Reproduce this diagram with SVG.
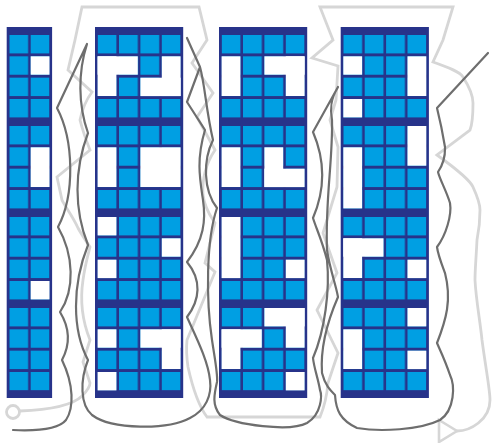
<svg xmlns="http://www.w3.org/2000/svg" width="493" height="443" viewBox="0 0 493 443">
<defs>
<pattern id="cells" patternUnits="userSpaceOnUse" x="2.6" y="35" width="21.4" height="91">
<rect x="0" y="0" width="18.8" height="18.4" fill="#009fe3"/>
<rect x="0" y="21.33" width="18.8" height="18.4" fill="#009fe3"/>
<rect x="0" y="42.67" width="18.8" height="18.4" fill="#009fe3"/>
<rect x="0" y="64" width="18.8" height="18.4" fill="#009fe3"/>
</pattern>
<marker id="arrow" markerUnits="userSpaceOnUse" markerWidth="24" markerHeight="26" refX="2" refY="12" orient="auto" viewBox="0 0 24 26">
<polygon points="20,1 20,23 2,12" fill="#fff" stroke="#d6d6d6" stroke-width="2.6" stroke-linejoin="miter"/>
</marker>
<style>
.frame{fill:#27338a}
.cells{fill:url(#cells)}
.hole{fill:#fff}
.dark{fill:none;stroke:#6e6e6e;stroke-width:2.2;stroke-linejoin:round;stroke-linecap:round}
.light{fill:none;stroke:#d6d6d6;stroke-width:2.8;stroke-linejoin:miter;stroke-linecap:round}
</style>
</defs>
<rect width="493" height="443" fill="#fff"/>

<g id="connectors">
<path class="light" marker-end="url(#arrow)" d="M19.5,411 C45,410 72,406 82,396 C88,390 90,386 90,383 L83,362 L90,340 C82,320 80,300 83,280 C85,265 88,255 90,247 C84,238 80,232 78,228 C72,215 64,205 62,200 L57,177 L90,150 C86,140 82,128 80,120 C82,110 86,100 92,92 L68,70 L75,40 L82,7 L199,7 L207,40 L192,63 L213,93 L197,117 L215,150 C205,165 202,180 203,195 C205,210 212,218 215,223 L205,263 L215,272 L187,340 C186,350 187,360 188,367 C192,385 198,405 207,417 L320,417 C325,405 327,395 328,383 L338,353 L317,310 L337,273 L323,233 L337,187 L338,147 L330,120 L336,100 L338,66 L312,58 L333,40 L320,7 L453,7 L443,40 L433,62 C450,68 460,72 463,77 C470,88 473,95 473,103 C473,115 472,125 470,130 L437,155 C455,168 470,180 473,187 C478,198 480,205 480,210 C480,225 478,235 477,240 C476,260 475,270 475,280 C476,300 480,320 482,340 C486,370 490,390 490,400 C490,420 470,431 457,431"/>
<circle class="light" cx="13" cy="412" r="6.5"/>
<path class="dark" d="M13,430 C35,431 58,430 66,420 C74,408 74,385 62,360 C70,345 71,330 60,312 C75,290 74,255 58,227 C75,195 74,140 57,108 L87,44 C78,72 78,105 88,133 C74,170 74,210 88,245 C72,285 72,330 88,360 C80,380 80,405 92,415 C112,430 168,430 190,418 C206,410 212,395 210,380 C208,360 195,335 187,317 C200,300 202,280 187,262 C204,240 206,220 203,200 C200,180 196,160 205,130 L187,102 L200,67 L187,38 L200,67 C205,85 206,110 213,140 C203,160 203,190 217,208 C206,240 206,300 212,340 C215,360 218,375 217,382 C214,395 212,405 220,415 C235,425 290,432 307,423 C322,414 322,395 320,390 C318,378 314,368 313,358 C325,330 330,290 327,260 C322,240 316,228 313,218 C325,190 325,160 313,132 L338,87 C330,100 330,110 332,120 C333,160 325,200 327,250 C330,270 336,285 338,297 C328,320 320,345 322,373 C325,385 330,390 335,395 C336,410 340,420 357,428 C380,432 420,430 440,420 C455,410 455,385 450,375 C445,360 440,350 437,343 C446,320 452,300 445,273 C442,265 438,255 437,247 C446,235 452,215 450,203 C446,190 440,180 438,172 C446,160 445,150 445,147 C443,135 440,120 437,108 L488,53"/>
</g>

<g id="column-1" transform="translate(6.7,0)">
<rect class="frame" x="0" y="27" width="45.4" height="371"/>
<rect class="cells" x="2.6" y="35" width="40.2" height="355.4"/>
<rect class="hole" x="24" y="56.3" width="18.8" height="18.4"/>
<rect class="hole" x="24" y="147.3" width="18.8" height="39.7"/>
<rect class="hole" x="24" y="281" width="18.8" height="18.4"/>
</g>

<g id="column-2" transform="translate(95,0)">
<rect class="frame" x="0" y="27" width="88.2" height="371"/>
<rect class="cells" x="2.6" y="35" width="83" height="355.4"/>
<rect class="hole" x="2.6" y="56.3" width="40.2" height="18.4"/>
<rect class="hole" x="2.6" y="56.3" width="18.8" height="39.7"/>
<rect class="hole" x="66.8" y="56.3" width="18.8" height="39.7"/>
<rect class="hole" x="45.4" y="77.7" width="40.2" height="18.4"/>
<rect class="hole" x="2.6" y="147.3" width="18.8" height="39.7"/>
<rect class="hole" x="45.4" y="147.3" width="40.2" height="39.7"/>
<rect class="hole" x="2.6" y="217" width="18.8" height="18.4"/>
<rect class="hole" x="66.8" y="238.3" width="18.8" height="18.4"/>
<rect class="hole" x="2.6" y="259.7" width="18.8" height="18.4"/>
<rect class="hole" x="2.6" y="329.3" width="18.8" height="18.4"/>
<rect class="hole" x="45.4" y="329.3" width="40.2" height="18.4"/>
<rect class="hole" x="66.8" y="329.3" width="18.8" height="39.7"/>
<rect class="hole" x="2.6" y="372" width="18.8" height="18.4"/>
</g>

<g id="column-3" transform="translate(219,0)">
<rect class="frame" x="0" y="27" width="88.2" height="371"/>
<rect class="cells" x="2.6" y="35" width="83" height="355.4"/>
<rect class="hole" x="2.6" y="56.3" width="18.8" height="39.7"/>
<rect class="hole" x="45.4" y="56.3" width="40.2" height="18.4"/>
<rect class="hole" x="66.8" y="56.3" width="18.8" height="39.7"/>
<rect class="hole" x="2.6" y="147.3" width="18.8" height="39.7"/>
<rect class="hole" x="45.4" y="147.3" width="18.8" height="39.7"/>
<rect class="hole" x="45.4" y="168.7" width="40.2" height="18.4"/>
<rect class="hole" x="2.6" y="217" width="18.8" height="61.1"/>
<rect class="hole" x="66.8" y="259.7" width="18.8" height="18.4"/>
<rect class="hole" x="45.4" y="308" width="40.2" height="18.4"/>
<rect class="hole" x="66.8" y="308" width="18.8" height="39.7"/>
<rect class="hole" x="2.6" y="329.3" width="40.2" height="18.4"/>
<rect class="hole" x="2.6" y="329.3" width="18.8" height="39.7"/>
<rect class="hole" x="66.8" y="372" width="18.8" height="18.4"/>
</g>

<g id="column-4" transform="translate(340.7,0)">
<rect class="frame" x="0" y="27" width="88.2" height="371"/>
<rect class="cells" x="2.6" y="35" width="83" height="355.4"/>
<rect class="hole" x="2.6" y="56.3" width="18.8" height="18.4"/>
<rect class="hole" x="66.8" y="56.3" width="18.8" height="39.7"/>
<rect class="hole" x="2.6" y="99" width="18.8" height="18.4"/>
<rect class="hole" x="66.8" y="126" width="18.8" height="39.7"/>
<rect class="hole" x="2.6" y="147.3" width="18.8" height="61.1"/>
<rect class="hole" x="2.6" y="238.3" width="40.2" height="18.4"/>
<rect class="hole" x="2.6" y="238.3" width="18.8" height="39.7"/>
<rect class="hole" x="66.8" y="259.7" width="18.8" height="18.4"/>
<rect class="hole" x="66.8" y="308" width="18.8" height="18.4"/>
<rect class="hole" x="2.6" y="329.3" width="18.8" height="39.7"/>
<rect class="hole" x="66.8" y="350.7" width="18.8" height="18.4"/>
</g>
</svg>
